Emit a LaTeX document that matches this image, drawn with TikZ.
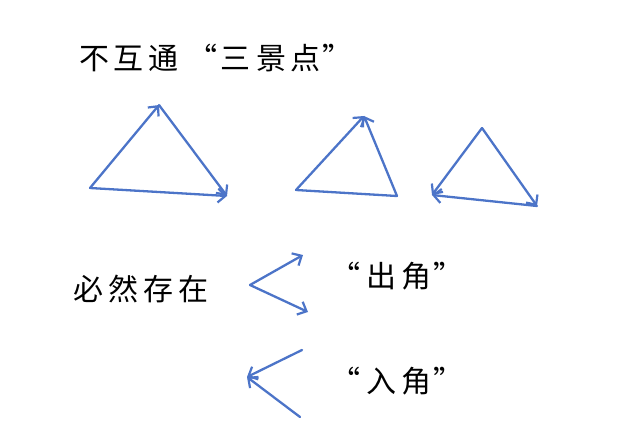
\documentclass[tikz,border=0pt]{standalone}
\usepackage{fontspec}
\newfontfamily\cjk{Noto Sans CJK SC}
\usetikzlibrary{arrows.meta}
\begin{document}
\begin{tikzpicture}[x=1pt,y=-1pt,
  edge/.style={draw={rgb,255:red,76;green,116;blue,200}, line width=2.3pt, line cap=round},
  arr/.style={edge, -{Straight Barb[length=7.5pt,width=14pt,line width=2.2pt]}},
  lbl/.style={font=\cjk\fontsize{30}{32}\selectfont, inner sep=0pt}]
\useasboundingbox (0,0) rectangle (639,433);
% triangle 1
\coordinate (a1) at (90,188);
\coordinate (a2) at (159,105);
\coordinate (a3) at (227,196);
\draw[arr] (a1) -- (a2);
\draw[arr] (a2) -- (a3);
\draw[arr] (a1) -- (a3);
% triangle 2
\coordinate (b1) at (296,190);
\coordinate (b2) at (364,116);
\coordinate (b3) at (397,196);
\draw[arr] (b1) -- (b2);
\draw[arr] (b3) -- (b2);
\draw[edge] (b1) -- (b3);
% triangle 3
\coordinate (c1) at (482,128);
\coordinate (c2) at (432,195);
\coordinate (c3) at (537,206);
\draw[arr] (c1) -- (c2);
\draw[arr] (c1) -- (c3);
\draw[arr] (c3) -- (c2);
% texts
\node[lbl] (title) at (216,58) {不\hspace{5pt}互\hspace{5pt}通\hspace{8pt}“\hspace{4pt}三\hspace{5pt}景\hspace{5pt}点\hspace{2pt}”};
\node[lbl] (must) at (141,289) {必\hspace{5pt}然\hspace{5pt}存\hspace{5pt}在};
\node[lbl] (out) at (397,276) {“\hspace{6pt}出\hspace{5pt}角\hspace{2pt}”};
\node[lbl] (in) at (397,381) {“\hspace{6pt}入\hspace{5pt}角\hspace{2pt}”};
% out angle
\coordinate (o) at (250,285);
\coordinate (o1) at (303,255);
\coordinate (o2) at (308,312);
\draw[arr] (o) -- (o1);
\draw[arr] (o) -- (o2);
% in angle
\coordinate (i) at (247,377);
\coordinate (i1) at (302,350);
\coordinate (i2) at (300,417);
\draw[arr] (i1) -- (i);
\draw[arr] (i2) -- (i);
\end{tikzpicture}
\end{document}
